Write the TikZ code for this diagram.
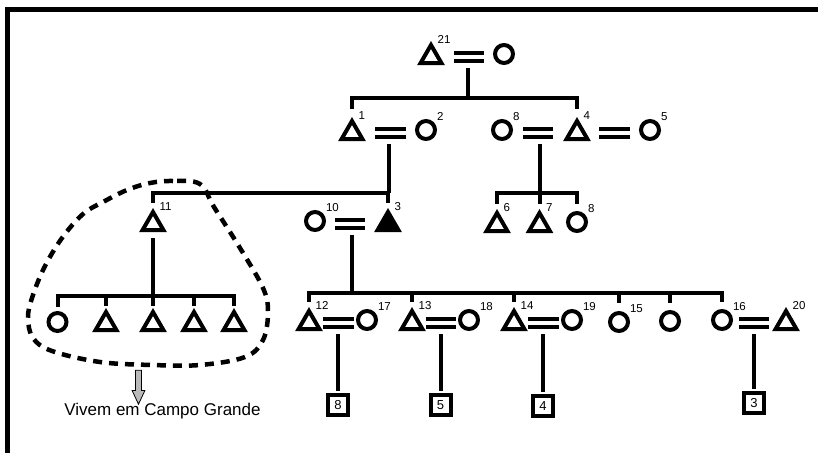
\documentclass[tikz,border=0pt]{standalone}
\usepackage{fontspec}
\setmainfont{Liberation Sans}
\usetikzlibrary{positioning}
\usetikzlibrary{shapes.geometric, shapes.arrows}

\newcommand{\numfont}{\fontsize{11.5}{12}\selectfont}

\begin{document}
\begin{tikzpicture}[x=1pt, y=-1pt,
  male/.style={regular polygon, regular polygon sides=3, draw, line width=4pt, inner sep=0pt, outer sep=0pt, minimum size=24pt},
  female/.style={circle, draw, line width=4pt, inner sep=0pt, outer sep=0pt, minimum size=18pt},
  num/.style={font=\numfont, inner sep=0.5pt, anchor=south west},
  mnum/.style={male, label={[num, xshift=6pt, yshift=1pt]north:#1}},
  fnum/.style={female, label={[num, xshift=4pt, yshift=2pt]north east:#1}},
  count/.style={rectangle, draw, line width=4pt, inner sep=0pt, outer sep=0pt, minimum size=20pt, font=\fontsize{13}{13}\selectfont},
  link/.style={line width=4pt},
  marry/.style={line width=4pt, double, double distance=4.8pt, shorten <=23pt, shorten >=20pt},
  closepair/.style={shorten <=14pt, shorten >=13pt},
  descent/.style={line width=4pt, shorten <=11pt},
  blob/.style={line width=4.5pt, dash pattern=on 9pt off 7pt},
  framebar/.style={line width=4.5pt},
  pointer/.style={single arrow, draw, fill=gray!55, line width=0.8pt, rotate=-90, inner sep=0pt, inner ysep=2.6pt, minimum height=34pt, single arrow head extend=3.4pt, single arrow tip angle=50},
  caption/.style={font=\fontsize{17}{18}\selectfont, inner sep=0pt, anchor=base}]

\useasboundingbox (0,0) rectangle (818,453);
\draw[framebar] (818,9.5) -| (7.5,453);

% Nodes
\node[mnum=21] (t21) at (431,57) {};
\node[female] (c21) at (504,54) {};

\node[mnum=1] (t1) at (352,133) {};
\node[fnum=2] (c2) at (426,130) {};
\node[fnum=8] (c8a) at (502,130) {};
\node[mnum=4] (t4) at (577,133) {};
\node[fnum=5] (c5) at (650,130) {};

\node[mnum=11] (t11) at (153,224) {};
\node[fnum=10] (c10) at (315,221) {};
\node[mnum=3, fill=black] (t3) at (388,224) {};
\node[mnum=6] (t6) at (497,225) {};
\node[mnum=7] (t7) at (539.5,225) {};
\node[fnum=8] (c8b) at (577,222) {};

\node[female] (k1) at (57.5,322) {};
\node[male] (k2) at (106,324) {};
\node[male] (k3) at (153,324) {};
\node[male] (k4) at (194,324) {};
\node[male] (k5) at (234,324) {};

\node[mnum=12] (t12) at (309,323) {};
\node[fnum=17] (c17) at (367,320) {};
\node[mnum=13] (t13) at (412,323) {};
\node[fnum=18] (c18) at (469,320) {};
\node[mnum=14] (t14) at (514,323) {};
\node[fnum=19] (c19) at (572,320) {};
\node[fnum=15] (c15) at (619,322) {};
\node[female] (c0) at (670,321) {};
\node[fnum=16] (c16) at (722,320) {};
\node[mnum=20] (t20) at (786,323) {};

% Marriages
\draw[marry] (t21.center) -- coordinate[midway] (m21) (t21 -| c21);
\draw[marry] (t1.center) -- coordinate[midway] (m1) (t1 -| c2);
\draw[marry, shorten <=24pt, shorten >=21pt] (t4.center) -- coordinate[midway] (m8) (t4 -| c8a);
\draw[marry, shorten <=22pt] (t4.center) -- (t4 -| c5);
\draw[marry] (t3.center) -- coordinate[midway] (m10) (t3 -| c10);
\draw[marry, closepair] (t12.center) -- coordinate[midway] (m12) (t12 -| c17);
\draw[marry, closepair] (t13.center) -- coordinate[midway] (m13) (t13 -| c18);
\draw[marry, closepair] (t14.center) -- coordinate[midway] (m14) (t14 -| c19);
\draw[marry, shorten <=17pt, shorten >=17pt] (t20.center) -- coordinate[midway] (m16) (t20 -| c16);

% Sibling lines
\coordinate[below=41pt of m21] (sib1);
\coordinate[below=60pt of m1] (sib2);
\coordinate[below=60pt of m8] (sib2b);
\coordinate[below=72pt of t11.center] (sib3a);
\coordinate[below=69pt of m10] (sib3);

\draw[descent] (m21) -- (sib1);
\draw[link, shorten <=12.5pt, shorten >=12.5pt] (t1.north) |- (sib1) -| (t4.north);

\draw[descent] (m1) -- (sib2);
\draw[link, shorten <=9.5pt, shorten >=9.5pt] (t11.north) |- (sib2) -| (t3.north);

\draw[descent] (m8) -- (sib2b);
\draw[link, shorten <=9.5pt, shorten >=9.5pt] (t6.north) |- (sib2b) -| (c8b.north);
\draw[link, shorten >=9.5pt] (sib2b -| t7) -- (t7.north);

\draw[descent, shorten <=14pt] (t11.center) -- (sib3a);
\draw[link, shorten <=6pt, shorten >=6pt] (k1.north) |- (sib3a) -| (k5.north);
\draw[link, shorten >=6pt] (sib3a -| k2) -- (k2.north);
\draw[link, shorten >=6pt] (sib3a -| k3) -- (k3.north);
\draw[link, shorten >=6pt] (sib3a -| k4) -- (k4.north);

\draw[descent] (m10) -- (sib3);
\draw[link, shorten <=9pt, shorten >=9pt] (t12.north) |- (sib3) -| (c16.north);
\draw[link, shorten >=9pt] (sib3 -| t13) -- (t13.north);
\draw[link, shorten >=9pt] (sib3 -| t14) -- (t14.north);
\draw[link, shorten >=10pt] (sib3 -| c15) -- (c15.north);
\draw[link, shorten >=9pt] (sib3 -| c0) -- (c0.north);

% Children counts
\node[count, below=72pt of m12] (n8) {8};
\node[count, below=72pt of m13] (n5) {5};
\node[count, below=73pt of m14] (n4) {4};
\node[count, below=70pt of m16] (n3) {3};

\draw[descent, shorten >=4pt] (m12) -- (n8);
\draw[descent, shorten >=4pt] (m13) -- (n5);
\draw[descent, shorten >=4pt] (m14) -- (n4);
\draw[descent, shorten >=4pt] (m16) -- (n3);

% Campo Grande group
\draw[blob] plot[smooth cycle, tension=0.6] coordinates {(200,184) (173,181) (150,183) (127,190) (103,202) (83,214) (62,238) (44,268) (32,298) (28,318) (33,338) (52,351) (100,362) (153,365) (200,365) (245,357) (263,340) (268,312) (263,288) (240,248) (214,207)};
\node[pointer] (arrow) at (138.5,384) {};
\node[caption] (place) at (162.5,415) {Vivem em Campo Grande};

\end{tikzpicture}
\end{document}
